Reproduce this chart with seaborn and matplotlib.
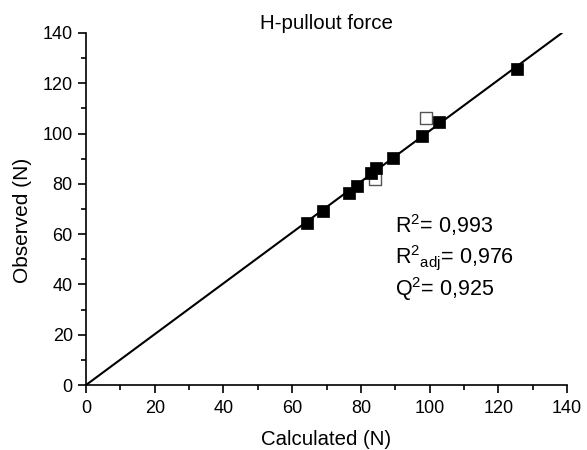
import matplotlib
matplotlib.use("Agg")
import matplotlib.pyplot as plt
import seaborn as sns
import pandas as pd
from matplotlib.ticker import MultipleLocator

# Data
filled_x = [64.3, 69.0, 76.5, 78.9, 82.9, 84.4, 89.3, 97.8, 102.7, 125.4]
filled_y = [64.4, 69.2, 76.4, 79.2, 84.3, 86.3, 90.3, 99.0, 104.6, 125.7]
open_x = [84.1, 98.9]
open_y = [81.9, 106.2]
line_x = [0.0, 138.5]
line_y = [0.0, 140.0]
stats_lines = ["R$^{2}$= 0,993", "R$^{2}$$_{\\rm adj}$= 0,976", "Q$^{2}$= 0,925"]

sns.set_style("ticks")
plt.rcParams['font.family'] = ['Liberation Sans', 'DejaVu Sans']
plt.rcParams['mathtext.fontset'] = 'custom'
plt.rcParams['mathtext.rm'] = 'Liberation Sans'
plt.rcParams['text.color'] = 'black'
plt.rcParams['axes.labelcolor'] = 'black'
plt.rcParams['xtick.color'] = 'black'
plt.rcParams['ytick.color'] = 'black'

fig = plt.figure(figsize=(5.87, 4.5), dpi=100)
ax = fig.add_axes([0.1465, 0.1444, 0.966 - 0.1465, 0.9267 - 0.1444])

df_line = pd.DataFrame({"x": line_x, "y": line_y})
df_f = pd.DataFrame({"x": filled_x, "y": filled_y})
df_o = pd.DataFrame({"x": open_x, "y": open_y})

sns.lineplot(data=df_line, x="x", y="y", ax=ax, color="black", linewidth=1.5)
sns.scatterplot(data=df_o, x="x", y="y", ax=ax, marker="s", s=64,
                facecolor="white", edgecolor="#555555", linewidth=1.0, zorder=3)
sns.scatterplot(data=df_f, x="x", y="y", ax=ax, marker="s", s=64,
                color="black", edgecolor="black", linewidth=0.5, zorder=4)

ax.set_xlim(0, 140)
ax.set_ylim(0, 140)
ax.xaxis.set_major_locator(MultipleLocator(20))
ax.yaxis.set_major_locator(MultipleLocator(20))
ax.xaxis.set_minor_locator(MultipleLocator(10))
ax.yaxis.set_minor_locator(MultipleLocator(10))
ax.tick_params(which="major", direction="out", length=6, width=1.2, labelsize=13,
               colors="black", labelcolor="black")
ax.tick_params(axis="x", which="major", pad=5)
ax.tick_params(which="minor", direction="out", length=3.5, width=1.2, colors="black")
for s in ["top", "right"]:
    ax.spines[s].set_visible(False)
for s in ["left", "bottom"]:
    ax.spines[s].set_linewidth(1.2)
    ax.spines[s].set_color("black")

ax.set_xlabel("Calculated (N)", fontsize=14.7, color="black")
ax.set_ylabel("Observed (N)", fontsize=15, color="black")
ax.xaxis.set_label_coords(0.5, -0.127)
ax.yaxis.set_label_coords(-0.112, 0.469)
ax.set_title("H-pullout force", fontsize=14.8, pad=3, color="black")

ys = [0.432, 0.346, 0.254]
for t, yy in zip(stats_lines, ys):
    ax.text(0.643, yy, t, transform=ax.transAxes, fontsize=15.5, va="baseline",
            ha="left", color="black")

fig.savefig("out.png", dpi=100)
